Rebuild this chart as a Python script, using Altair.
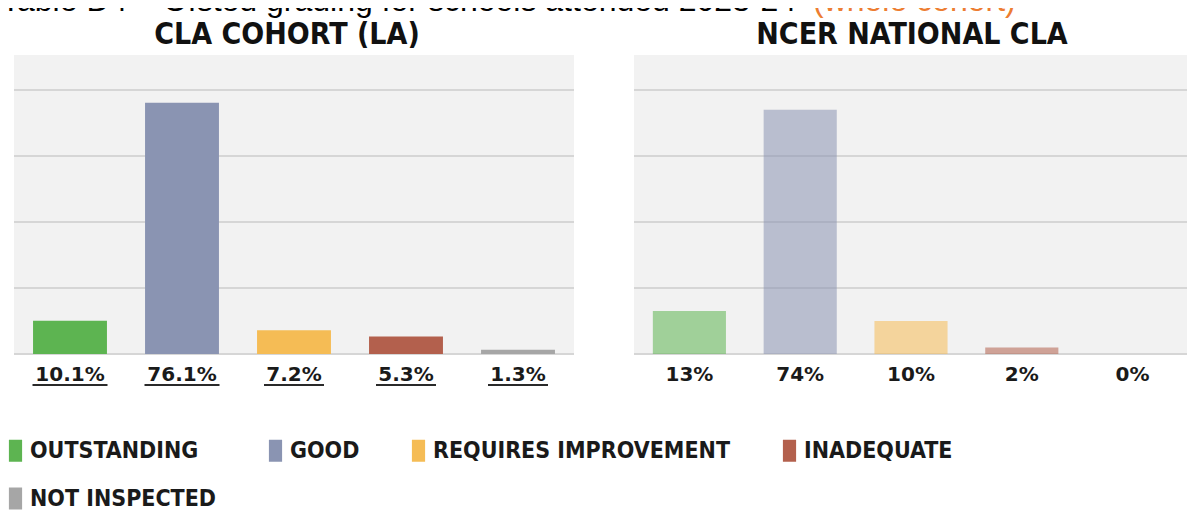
import altair as alt
import pandas as pd

# ---- data ----
grades = ["OUTSTANDING", "GOOD", "REQUIRES IMPROVEMENT", "INADEQUATE", "NOT INSPECTED"]
la_values = [10.1, 76.1, 7.2, 5.3, 1.3]
la_labels = ["10.1%", "76.1%", "7.2%", "5.3%", "1.3%"]
nat_values = [13, 74, 10, 2, 0]
nat_labels = ["13%", "74%", "10%", "2%", "0%"]
grid_values = [0, 20, 40, 60, 80]
grade_colors = ["#5db451", "#8a94b2", "#f5bc55", "#b3604d", "#a6a6a6"]

main_title = "Table D4 – Ofsted grading for schools attended 2023-24"
main_title_note = "(whole cohort)"
panel_titles = ["CLA COHORT (LA)", "NCER NATIONAL CLA"]

la_df = pd.DataFrame({"grade": grades, "value": la_values, "label": la_labels})
nat_df = pd.DataFrame({"grade": grades, "value": nat_values, "label": nat_labels})
grid_df = pd.DataFrame({"g": grid_values})
one = pd.DataFrame({"k": [0]})

Y_MAX = 90.6
yscale = alt.Scale(domain=[0, Y_MAX], range=[346, 47], nice=False, zero=True)
color_scale = alt.Scale(domain=grades, range=grade_colors)

COND = "DejaVu Sans Condensed, Liberation Sans Narrow, DejaVu Sans"
VAL_FONT = "DejaVu Sans"

legend = alt.Legend(
    orient="none", legendX=-4, legendY=431, direction="horizontal", columns=4,
    columnPadding=47, rowPadding=24, symbolType="M-0.6,-1H0.6V1H-0.6Z",
    symbolSize=484, symbolStrokeWidth=0, symbolOpacity=1,
    labelFont=COND, labelFontWeight="bold", labelFontSize=23, labelColor="#1a1a1a",
    labelOffset=3, labelLimit=0, title=None, padding=0,
)


def panel(df, x0, x1, opacity, underline, show_legend):
    xscale = alt.Scale(domain=grades, range=[x0, x1], paddingInner=0.34, paddingOuter=0.17)
    bg = alt.Chart(one).mark_rect(color="#f2f2f2").encode(
        x=alt.value(x0), x2=alt.value(x1),
        y=alt.Y(datum=Y_MAX, scale=yscale, axis=None), y2=alt.datum(0),
    )
    grid = alt.Chart(grid_df).mark_rule(color="#d6d6d6", strokeWidth=2).encode(
        x=alt.value(x0), x2=alt.value(x1),
        y=alt.Y("g:Q", scale=yscale, axis=None),
    )
    bars = alt.Chart(df).mark_bar(opacity=opacity).encode(
        x=alt.X("grade:N", scale=xscale, sort=grades, axis=None),
        y=alt.Y("value:Q", scale=yscale, axis=None),
        color=alt.Color("grade:N", scale=color_scale,
                        legend=legend if show_legend else None),
    )
    labels = alt.Chart(df).mark_text(
        font=VAL_FONT, fontWeight="bold", fontSize=20, dy=21, color="#1a1a1a"
    ).encode(
        x=alt.X("grade:N", scale=xscale, sort=grades, axis=None),
        y=alt.datum(0),
        text="label:N",
    )
    layers = [bg, grid, bars, labels]
    if underline:
        ul = alt.Chart(df).transform_calculate(
            ulw="length(datum.label) * 15"
        ).mark_tick(orient="horizontal", thickness=2, yOffset=31, color="#2a2a2a", opacity=1).encode(
            x=alt.X("grade:N", scale=xscale, sort=grades, axis=None),
            y=alt.datum(0),
            size=alt.Size("ulw:Q", scale=None, legend=None),
        )
        layers.append(ul)
    return alt.layer(*layers)


left = panel(la_df, 6, 566, 1.0, True, True)
right = panel(nat_df, 626, 1180, 0.55, False, False)

t_main = alt.Chart(one).mark_text(
    font="Liberation Sans, Arial", fontSize=32, align="left", baseline="alphabetic", color="#000000"
).encode(x=alt.value(-7), y=alt.value(3), text=alt.value(main_title))
t_note = alt.Chart(one).mark_text(
    font="Liberation Sans, Arial", fontSize=32, align="left", baseline="alphabetic", color="#ed7d31"
).encode(x=alt.value(805), y=alt.value(3), text=alt.value(main_title_note))
t_left = alt.Chart(one).mark_text(
    font=COND, fontWeight="bold", fontSize=30, align="center", baseline="middle", color="#111111"
).encode(x=alt.value(279), y=alt.value(27), text=alt.value(panel_titles[0]))
t_right = alt.Chart(one).mark_text(
    font=COND, fontWeight="bold", fontSize=30, align="center", baseline="middle", color="#111111"
).encode(x=alt.value(904), y=alt.value(27), text=alt.value(panel_titles[1]))

chart = alt.layer(left, right, t_main, t_note, t_left, t_right).resolve_scale(
    x="independent"
).properties(
    width=1179, height=505, padding=0,
    autosize=alt.AutoSizeParams(type="none"),
).configure_view(stroke=None)

chart.save("out.html", embed_options={"renderer": "svg", "actions": False})
